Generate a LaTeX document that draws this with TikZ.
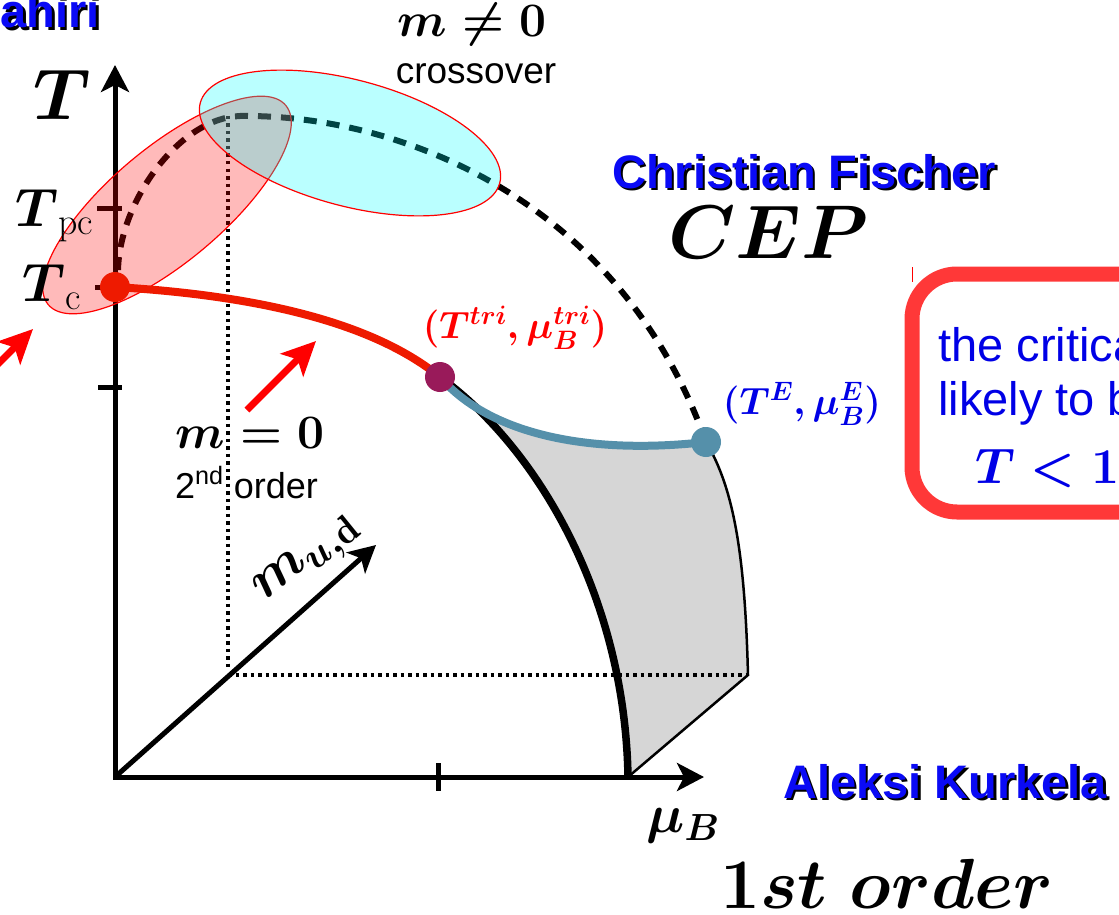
\RequirePackage{fix-cm}
\documentclass[tikz,border=0pt]{standalone}
\usepackage{amsmath}
\usepackage{fontspec}
\newfontfamily\arialfont{Liberation Sans}
\usetikzlibrary{arrows.meta}

\definecolor{pcred}{HTML}{EE1A00}
\definecolor{trimauve}{HTML}{991A5A}
\definecolor{cepteal}{HTML}{5590AA}
\definecolor{shadegray}{HTML}{D6D6D6}
\definecolor{nameblue}{HTML}{0A0AF5}
\definecolor{framered}{HTML}{FF3838}
\definecolor{noteblue}{HTML}{0000E6}
\definecolor{zonered}{RGB}{255,0,0}
\definecolor{zonecyan}{RGB}{0,255,255}

% blue name with a black drop shadow
\newcommand{\shadowname}[1]{\makebox[0pt][l]{\kern2.5pt\raisebox{-2.5pt}{\color{black}#1}}\textcolor{nameblue}{#1}}

\begin{document}
\begin{tikzpicture}[x=1pt, y=-1pt,
  >={Stealth[length=27pt,width=28pt,inset=7pt]},
  axis/.style={line width=5pt, line join=miter},
  tickmark/.style={line width=5pt},
  guide/.style={line width=3.5pt, dash pattern=on 3.5pt off 4pt},
  crossline/.style={line width=6pt, dash pattern=on 13pt off 10pt},
  zone/.style={draw=red, line width=1.2pt, fill opacity=0.27},
  phasedot/.style={circle, inner sep=0pt, minimum size=30pt},
  hint/.style={draw=red, line width=7pt, -{Stealth[length=34pt,width=32pt,inset=8pt]}},
  mathsize/.style={font=\fontsize{#1}{#1}\selectfont},
  boldsize/.style={font=\fontsize{#1}{#1}\selectfont\boldmath},
  sanssize/.style={font=\arialfont\fontsize{#1}{#1}\selectfont},
  namesize/.style={font=\arialfont\bfseries\fontsize{#1}{#1}\selectfont},
]
\useasboundingbox (0,0) rectangle (1119,915);
\clip (0,0) rectangle (1119,915);

% key points
\coordinate (O) at (115,777);
\coordinate (Ttop) at (115,65);
\coordinate (Mtop) at (704,777);
\coordinate (Dtop) at (376,545);
\coordinate (Tc) at (115,287);
\coordinate (tri) at (440,377);
\coordinate (cep) at (706,442);
\coordinate (foot) at (628,777);
\coordinate (corner) at (748,675);
\coordinate (guidetop) at (228,116);
\coordinate (guideknee) at (228,675);

% first order region
\fill[shadegray] (tri) .. controls (540,450) and (625,600) .. (foot) -- (corner)
  .. controls (745,560) and (735,490) .. (cep)
  .. controls (590,455) and (490,435) .. (tri) -- cycle;

% dotted guides
\draw[guide] (guidetop) -- (228,670);
\draw[guide] (guideknee) -- (corner);

% axes and ticks
\draw[axis, <->] (Ttop) -- (O) -- (Mtop);
\draw[axis, ->] (O) -- (Dtop);
\draw[tickmark] (97,208) -- (122,208);
\draw[tickmark] (95,287) -- (Tc);
\draw[tickmark] (98,387) -- (122,387);
\draw[tickmark] (438,763) -- (438,791);

% crossover line
\draw[crossline] (118,270) .. controls (120,200) and (180,118) .. (240,116)
  .. controls (400,114) and (620,200) .. (cep);

% highlighted zones
\path[zone, fill=zonered, rotate around={40:(167,205)}] (167,205) ellipse [x radius=155pt, y radius=57pt];
\path[zone, fill=zonecyan, rotate around={-15:(350,143)}] (350,143) ellipse [x radius=155pt, y radius=63pt];

% transition lines
\draw[line width=7.5pt] (tri) .. controls (540,450) and (625,600) .. (foot);
\draw[line width=2.5pt, line join=miter] (cep) .. controls (735,490) and (745,560) .. (corner) -- (foot);
\draw[cepteal, line width=8pt] (tri) .. controls (490,435) and (590,455) .. (cep);
\draw[pcred, line width=8pt] (Tc) .. controls (250,295) and (370,320) .. (tri);

% special points
\node[phasedot, fill=pcred] (tcdot) at (Tc) {};
\node[phasedot, fill=trimauve] (tridot) at (tri) {};
\node[phasedot, fill=cepteal] (cepdot) at (cep) {};

% pointers
\coordinate (hintAtail) at (247,410);
\coordinate (hintAtip) at (316,341);
\coordinate (hintBtail) at (-30,392);
\coordinate (hintBtip) at (33,329);
\draw[hint] (hintAtail) -- (hintAtip);
\draw[hint] (hintBtail) -- (hintBtip);

% axis labels
\node[mathsize=72] (tlabel) at (62,95) {$\boldsymbol{T}$};
\node[mathsize=54, anchor=base east, inner sep=0pt] (tpclabel) at (94,226) {$\boldsymbol{T}_{\mathrm{pc}}$};
\node[mathsize=54, anchor=base east, inner sep=0pt] (tclabel) at (82,301) {$\boldsymbol{T}_{\mathrm{c}}$};
\node[boldsize=54] (mublabel) at (683,826) {$\mu_B$};
\node[boldsize=56, rotate=39] (mudlabel) at (308,561) {$m_{u,\mathrm{d}}$};

% line labels
\node[boldsize=48] (mnonzero) at (472,25) {$m\neq0$};
\node[sanssize=37, anchor=base] (xoverlabel) at (476,84) {crossover};
\node[boldsize=48, anchor=base] (mzero) at (250,448) {$m=0$};
\node[sanssize=36, anchor=base west, inner sep=0pt] (secondlabel) at (175,498) {2\textsuperscript{nd} order};
\node[boldsize=38, text=red] (trilabel) at (515,328) {$(T^{tri},\mu_B^{tri})$};
\node[boldsize=38, text=noteblue] (ceplabel) at (802,404) {$(T^{E},\mu_B^{E})$};
\node[boldsize=76, anchor=base west, inner sep=0pt] (cepname) at (668,258) {$CEP$};
\node[boldsize=71, anchor=base west, inner sep=0pt] (firstorder) at (720,908) {$1st\;order$};

% names
\node[namesize=47, anchor=base east, inner sep=0pt] (lahiri) at (100,28) {\shadowname{ahiri}};
\node[namesize=47, anchor=base west, inner sep=0pt] (fischer) at (612,188) {\shadowname{Christian Fischer}};
\node[namesize=47, anchor=base west, inner sep=0pt] (kurkela) at (783,798) {\shadowname{Aleksi Kurkela}};

% note box
\draw[framered, line width=15pt, rounded corners=45pt] (912,274) rectangle (1240,512);
\draw[red, line width=1pt] (912,267) -- (912,282);
\node[sanssize=47, text=noteblue, anchor=base west, inner sep=0pt] (noteA) at (938,361) {the critica};
\node[sanssize=47, text=noteblue, anchor=base west, inner sep=0pt] (noteB) at (938,415) {likely to b};
\node[boldsize=50, text=noteblue, anchor=base west, inner sep=0pt] (noteC) at (975,483) {$T<1$};
\end{tikzpicture}
\end{document}
